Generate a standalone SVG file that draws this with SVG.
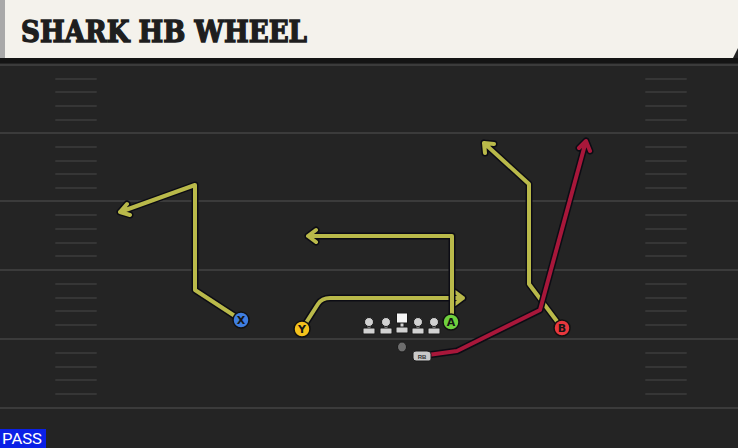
<svg xmlns="http://www.w3.org/2000/svg" width="738" height="448" viewBox="0 0 738 448">
<defs>
<style>
.yard{stroke:#3b3b3b;stroke-width:2}
.hash{stroke:#363636;stroke-width:2;stroke-linecap:round}
.out{fill:none;stroke:#0c0c14;stroke-width:7;stroke-linejoin:round;stroke-linecap:round}
.yel{fill:none;stroke:#b9b94a;stroke-width:4;stroke-linejoin:round;stroke-linecap:round}
.red{fill:none;stroke:#a8173a;stroke-width:4;stroke-linejoin:round;stroke-linecap:round}
.lbl{font-family:"DejaVu Sans","Liberation Sans",sans-serif;font-weight:bold;font-size:11px;fill:#151515;text-anchor:middle}
.ol{fill:#d2d2d2;stroke:#1a1a1a;stroke-width:1}
</style>
</defs>
<rect width="738" height="448" fill="#242424"/>
<rect x="0" y="58" width="738" height="5" fill="#141414"/>
<g id="field">
<line class="yard" x1="0" y1="65" x2="738" y2="65"/>
<line class="yard" x1="0" y1="133" x2="738" y2="133"/>
<line class="yard" x1="0" y1="201" x2="738" y2="201"/>
<line class="yard" x1="0" y1="270" x2="738" y2="270"/>
<line class="yard" x1="0" y1="339" x2="738" y2="339"/>
<line class="yard" x1="0" y1="408" x2="738" y2="408"/>
<g class="hash">
<path d="M56 79H96M56 92H96M56 106H96M56 120H96M56 147H96M56 161H96M56 174H96M56 188H96M56 215H96M56 229H96M56 243H96M56 256H96M56 284H96M56 298H96M56 311H96M56 325H96M56 353H96M56 367H96M56 380H96M56 394H96"/>
<path d="M646 79H686M646 92H686M646 106H686M646 120H686M646 147H686M646 161H686M646 174H686M646 188H686M646 215H686M646 229H686M646 243H686M646 256H686M646 284H686M646 298H686M646 311H686M646 325H686M646 353H686M646 367H686M646 380H686M646 394H686"/>
</g>
</g>
<g id="header">
<path d="M0 0H738V48L733 58H0Z" fill="#f4f2ec"/>
<rect x="0" y="0" width="5" height="58" fill="#a9a9a9"/>
<text x="21" y="42" font-family="'DejaVu Serif','Liberation Serif',serif" font-weight="bold" font-size="29" fill="#1e1e1e" stroke="#1e1e1e" stroke-width="1.4" textLength="286" lengthAdjust="spacingAndGlyphs">SHARK HB WHEEL</text>
</g>
<g id="connectors">
<g id="route-x">
<path class="out" d="M241 320L195 290V185L120 212M127 204L120 212L130 215"/>
<path class="yel" d="M241 320L195 290V185L120 212M127 204L120 212L130 215"/>
</g>
<g id="route-y">
<path class="out" d="M302 329L318 304Q322 298 330 298H463M455 292L463 298L455 304"/>
<path class="yel" d="M302 329L318 304Q322 298 330 298H463M455 292L463 298L455 304"/>
</g>
<g id="route-a">
<path class="out" d="M452 322V236H308M316 230L308 236L316 242"/>
<path class="yel" d="M452 322V236H308M316 230L308 236L316 242"/>
</g>
<g id="route-b">
<path class="out" d="M562 328L529 284V184L484 143M485 153L484 143L494 144"/>
<path class="yel" d="M562 328L529 284V184L484 143M485 153L484 143L494 144"/>
</g>
<g id="route-rb">
<path class="out" d="M428 355L457 351L540 310L586 141M579 148L586 141L590 151"/>
<path class="red" d="M428 355L457 351L540 310L586 141M579 148L586 141L590 151"/>
</g>
</g>
<g id="node-x"><circle cx="241" cy="320" r="8" fill="#3f7ee0" stroke="#111" stroke-width="1.5"/><text class="lbl" x="241" y="324">X</text></g>
<g id="node-y"><circle cx="302" cy="329" r="8" fill="#f4c21c" stroke="#111" stroke-width="1.5"/><text class="lbl" x="302" y="333">Y</text></g>
<g id="node-a"><circle cx="451" cy="322" r="8" fill="#6fd13e" stroke="#111" stroke-width="1.5"/><text class="lbl" x="451" y="326">A</text></g>
<g id="node-b"><circle cx="562" cy="328" r="8" fill="#e8373d" stroke="#111" stroke-width="1.5"/><text class="lbl" x="562" y="332">B</text></g>
<g id="oline">
<g><rect class="ol" x="367" y="322" width="4" height="8"/><rect class="ol" x="363" y="328" width="12" height="6" rx="1"/><circle class="ol" cx="369" cy="322" r="4.5"/></g>
<g><rect class="ol" x="384" y="322" width="4" height="8"/><rect class="ol" x="380" y="328" width="12" height="6" rx="1"/><circle class="ol" cx="386" cy="322" r="4.5"/></g>
<g><rect class="ol" x="400" y="322" width="4" height="7"/><rect class="ol" x="396" y="327" width="12" height="6" rx="1"/><rect x="396.5" y="313" width="11" height="10" fill="#f6f6f6" stroke="#1a1a1a"/></g>
<g><rect class="ol" x="416" y="322" width="4" height="8"/><rect class="ol" x="412" y="328" width="12" height="6" rx="1"/><circle class="ol" cx="418" cy="322" r="4.5"/></g>
<g><rect class="ol" x="432" y="322" width="4" height="8"/><rect class="ol" x="428" y="328" width="12" height="6" rx="1"/><circle class="ol" cx="434" cy="322" r="4.5"/></g>
</g>
<g id="node-qb"><ellipse cx="402" cy="347" rx="4.5" ry="5" fill="#6e6e6e" stroke="#1a1a1a"/></g>
<g id="node-rb"><path d="M413 353Q413 351 416 351H427Q431 351 431 354V359Q431 361 429 361H416Q413 361 413 358Z" fill="#c9c9c9" stroke="#1a1a1a"/><text x="422" y="359" font-family="'Liberation Sans',sans-serif" font-size="6" font-weight="bold" fill="#333" text-anchor="middle">RB</text></g>
<g id="tag"><rect x="0" y="429" width="46" height="19" fill="#0a20e6"/><text x="22" y="444" font-family="'Roboto','Liberation Sans',sans-serif" font-size="15" fill="#ffffff" text-anchor="middle" textLength="40" lengthAdjust="spacingAndGlyphs">PASS</text></g>
</svg>
